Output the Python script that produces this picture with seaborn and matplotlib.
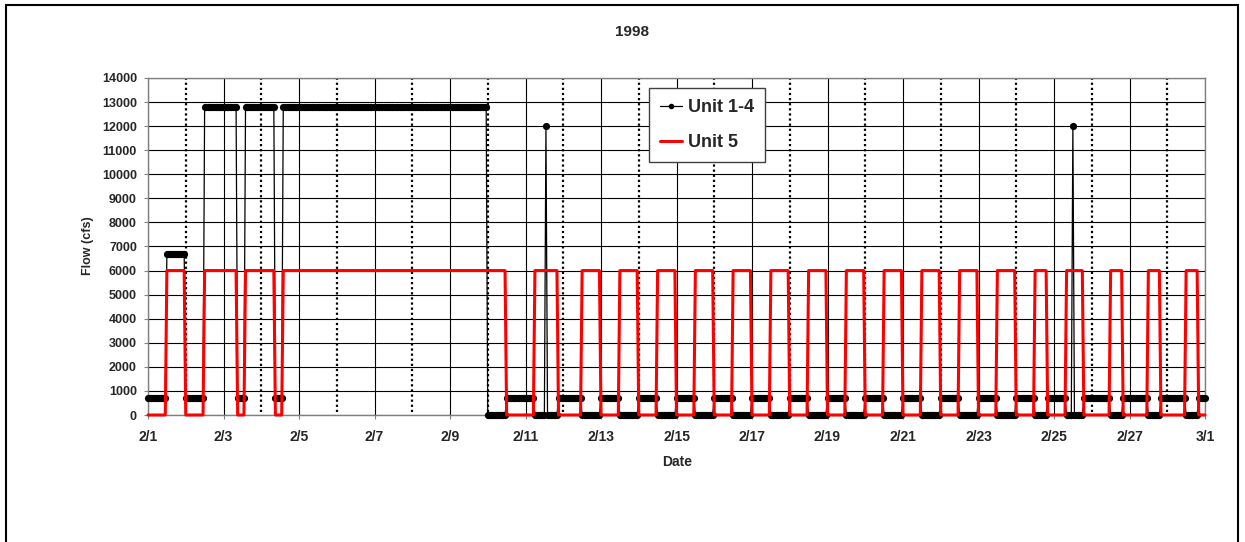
import numpy as np
import pandas as pd
import matplotlib
matplotlib.use("Agg")
import matplotlib.pyplot as plt
import seaborn as sns
from matplotlib.patches import Rectangle

# Hourly flows (cfs) from 1998-02-01 00:00, run-length encoded:
# each level holds for the given number of hourly readings.
unit14_levels = [700, 6700, 700, 12800, 700, 12800, 700, 12800, 0, 700, 0, 12000, 0, 700, 0,
                 700, 0, 700, 0, 700, 0, 700, 0, 700, 0, 700, 0,
                 700, 0, 700, 0, 700, 0, 700, 0, 700, 0,
                 700, 0, 700, 0, 12000, 0, 700, 0, 700, 0, 700, 0, 700]
unit14_hours = [12, 12, 12, 21, 5, 19, 5, 130, 12, 18, 7, 1, 7, 15, 12,
                12, 12, 12, 12, 12, 12, 12, 12, 12, 12, 12, 12,
                12, 12, 12, 12, 12, 12, 12, 12, 12, 12,
                12, 8, 12, 4, 1, 6, 17, 8, 16, 8, 16, 8, 5]

unit5_levels = [0, 6000, 0, 6000, 0, 6000, 0, 6000, 0, 6000, 0, 6000,
                0, 6000, 0, 6000, 0, 6000, 0, 6000, 0, 6000, 0, 6000,
                0, 6000, 0, 6000, 0, 6000, 0, 6000, 0, 6000,
                0, 6000, 0, 6000, 0, 6000, 0, 6000, 0, 6000, 0]
unit5_hours = [12, 12, 12, 21, 5, 19, 5, 142, 18, 15, 15, 12,
               12, 12, 12, 12, 12, 12, 12, 12, 12, 12, 12, 12,
               12, 12, 12, 12, 12, 12, 12, 12, 12, 12,
               12, 8, 12, 11, 17, 8, 16, 8, 16, 8, 5]

series_names = ["Unit 1-4", "Unit 5"]
y_ticks = list(range(0, 14001, 1000))
start_date = "1998-02-01"
end_date = "1998-03-01"
title = "1998"
x_label = "Date"
y_label = "Flow (cfs)"

sns.set_style("white")
plt.rcParams['font.family'] = ['Liberation Sans', 'DejaVu Sans']

u14 = np.repeat(unit14_levels, unit14_hours)
u5 = np.repeat(unit5_levels, unit5_hours)
times = pd.date_range(start_date, periods=len(u14), freq="h")
df = pd.DataFrame({"time": times, series_names[0]: u14, series_names[1]: u5})

W, H = 1245, 542
fig = plt.figure(figsize=(W / 100, H / 100), dpi=100)
ax = fig.add_axes([148 / W, 1 - 415 / H, (1205 - 148) / W, (415 - 78) / H])

sns.lineplot(data=df, x="time", y=series_names[0], ax=ax, color="black", lw=0.9,
             marker="o", markersize=5.2, markeredgewidth=0, estimator=None,
             label=series_names[0], zorder=3, clip_on=False)
sns.lineplot(data=df, x="time", y=series_names[1], ax=ax, color="#ff0000", lw=2.2,
             estimator=None, label=series_names[1], zorder=4, clip_on=False)

start = pd.Timestamp(start_date)
end = pd.Timestamp(end_date)
major = pd.date_range(start, end, freq="2D")
minor = pd.date_range(start + pd.Timedelta(days=1), end, freq="2D")

ax.set_xlim(start, end)
ax.set_ylim(0, 14000)
ax.set_yticks(y_ticks)
ax.set_yticklabels([str(v) for v in y_ticks], fontsize=9, fontweight="bold")
ax.set_xticks(major)
ax.set_xticklabels([f"{d.month}/{d.day}" for d in major], fontsize=10, fontweight="bold")
ax.set_axisbelow(True)
ax.grid(True, axis="both", color="black", lw=0.8)
for d in minor:
    ax.axvline(d, ymin=0.01, ymax=1, color="black", lw=1.6, ls=(0, (1, 1.3)), zorder=1)

ax.tick_params(axis="x", bottom=True, direction="out", length=3, width=0.8,
               color="#808080", pad=8)
ax.tick_params(axis="y", left=True, direction="out", length=3, width=0.8,
               color="#808080", pad=5)
for s in ax.spines.values():
    s.set_color("#808080")
    s.set_linewidth(1.0)
ax.set_xlabel("")
ax.set_ylabel("")

leg = ax.legend(loc="upper left", bbox_to_anchor=(0.474, 0.970), frameon=True,
                fancybox=False, edgecolor="#404040", framealpha=1,
                prop={"weight": "bold", "size": 13}, handlelength=1.25,
                handletextpad=0.3, labelspacing=1.0, borderpad=0.6,
                borderaxespad=0, numpoints=1)
leg.get_frame().set_linewidth(1.0)
for h in leg.legend_handles:
    h.set_markersize(4.0)

fig.text(632 / W, 1 - 32 / H, title, ha="center", va="center", fontsize=11, fontweight="bold")
fig.text(88 / W, 1 - 246 / H, y_label, ha="center", va="center", rotation=90,
         fontsize=9, fontweight="bold")
fig.text(676.7 / W, 1 - 462 / H, x_label, ha="center", va="center", fontsize=10,
         fontweight="bold")

fig.add_artist(Rectangle((6 / W, -0.1), (1238 - 6) / W, 0.1 + 1 - 5 / H, fill=False,
                         lw=1.5, edgecolor="black", transform=fig.transFigure))

fig.savefig("out.png", dpi=100)
